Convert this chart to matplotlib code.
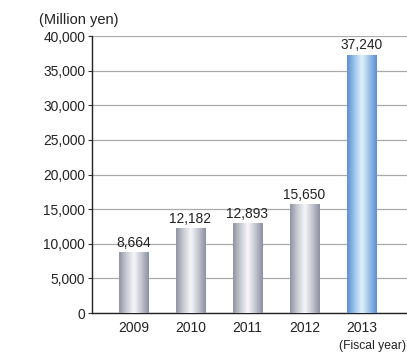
import numpy as np
import matplotlib
matplotlib.use("Agg")
import matplotlib.pyplot as plt
from matplotlib.colors import LinearSegmentedColormap

years = ["2009", "2010", "2011", "2012", "2013"]
values = [8664, 12182, 12893, 15650, 37240]
labels = ["8,664", "12,182", "12,893", "15,650", "37,240"]
yticks = [0, 5000, 10000, 15000, 20000, 25000, 30000, 35000, 40000]
ytick_labels = ["0", "5,000", "10,000", "15,000", "20,000", "25,000", "30,000", "35,000", "40,000"]

plt.rcParams['font.family'] = ['Liberation Sans', 'DejaVu Sans']

gray_cmap = LinearSegmentedColormap.from_list(
    "gray_bar", ["#8f93a3", "#c9cbd3", "#f7f7f9", "#c3c5cf", "#8b8fa0"])
blue_cmap = LinearSegmentedColormap.from_list(
    "blue_bar", ["#5a8fd2", "#9cc4ea", "#e2f1fb", "#98c0e8", "#5b8fd2"])

fig = plt.figure(figsize=(4.07, 3.57), dpi=100)
ax = fig.add_axes([0.226, 0.123, 0.774, 0.776])

x = np.arange(len(years))
width = 0.51
grad = np.linspace(0, 1, 256).reshape(1, -1)
for i, v in enumerate(values):
    cmap = blue_cmap if i == len(values) - 1 else gray_cmap
    ax.imshow(grad, cmap=cmap, aspect="auto", interpolation="bicubic",
              extent=[x[i] - width / 2, x[i] + width / 2, 0, v], zorder=3)
    ax.text(x[i], v + 450, labels[i], ha="center", va="bottom", fontsize=9.9,
            color="#222222", zorder=4)

ax.set_xlim(-0.728, 4.8)
ax.set_ylim(0, 40000)
ax.set_yticks(yticks)
ax.set_yticklabels(ytick_labels, fontsize=9.9, color="#222222")
ax.set_xticks(x)
ax.set_xticklabels(years, fontsize=10, color="#222222")
ax.tick_params(axis="x", length=0, pad=6)
ax.tick_params(axis="y", length=3, width=0.8, color="#333333", pad=2)
ax.grid(axis="y", color="#aaaaaa", linewidth=0.9, zorder=0)
ax.set_axisbelow(True)
for s in ["top", "right"]:
    ax.spines[s].set_visible(False)
ax.spines["left"].set_color("#222222")
ax.spines["bottom"].set_color("#222222")
ax.spines["left"].set_linewidth(1.0)
ax.spines["bottom"].set_linewidth(1.0)

fig.text(0.193, 0.944, "(Million yen)", ha="center", va="center", fontsize=10.5,
         color="#222222")
fig.text(0.997, 0.03, "(Fiscal year)", ha="right", va="center", fontsize=8.7,
         color="#222222")

fig.savefig("out.png", dpi=100)
plt.close()
